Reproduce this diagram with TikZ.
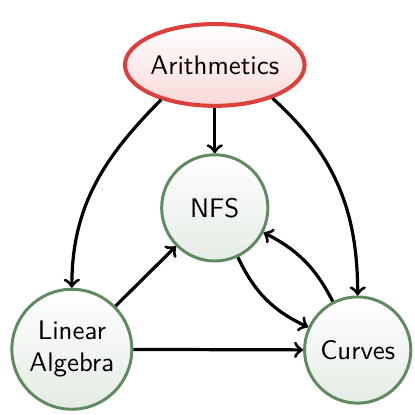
\documentclass[tikz,border=0pt]{standalone}
\usetikzlibrary{positioning,shapes.geometric}
\definecolor{arithred}{RGB}{220,64,58}
\definecolor{areagreen}{RGB}{95,138,95}
\begin{document}
\begin{tikzpicture}[font=\sffamily,
    topic/.style={ellipse, draw=arithred, line width=1.5pt, top color=white, bottom color=arithred!20, minimum width=2.35cm, minimum height=1.07cm, inner sep=-0.4pt},
    area/.style={circle, draw=areagreen, line width=1.1pt, top color=white, bottom color=areagreen!17, minimum size=1.39cm, inner sep=1pt, align=center},
    link/.style={->, very thick}]
    \useasboundingbox (0, 0) rectangle (5.43, 5.43);

    % Nodes
    \node[topic] (arith) at (2.81, 4.58) {Arithmetics};
    \node[area] (nfs) at (2.81, 2.71) {NFS};
    \node[area, minimum size=1.57cm] (linalg) at (0.94, 0.86) {Linear\\Algebra};
    \node[area] (curves) at (4.68, 0.85) {Curves};

    % Links
    \draw[link] (arith) -- (nfs);
    \draw[link] (arith.213) to[out=225, in=90] (linalg);
    \draw[link] (arith.-30) to[out=-42, in=90] (curves);
    \draw[link] (linalg) -- (nfs);
    \draw[link] (linalg) -- (curves);
    \draw[link] (nfs) to[bend right=20] (curves);
    \draw[link] (curves) to[bend right=18] (nfs);
\end{tikzpicture}
\end{document}
